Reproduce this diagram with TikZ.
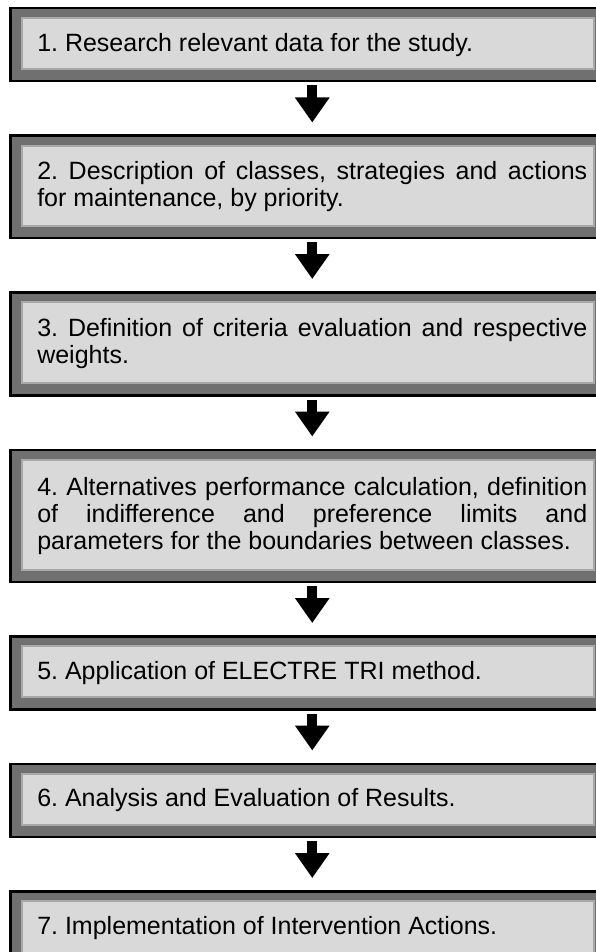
\documentclass[tikz,border=0pt]{standalone}
\usepackage{fontspec}
\setmainfont{Liberation Sans}
\usepackage{tikz}
\usetikzlibrary{positioning, arrows.meta}
\definecolor{bandgray}{HTML}{707070}
\definecolor{innergray}{HTML}{D9D9D9}
\definecolor{innerline}{HTML}{A8A8A8}

\tikzset{
    stepbox/.style={draw=black, line width=2.5pt, fill=bandgray,
        minimum width=604pt, text width=550pt, inner xsep=27pt,
        align=justify, font=\fontsize{25}{27}\selectfont,
        execute at begin node={\frenchspacing\hyphenpenalty=10000\relax},
        path picture={\draw[innerline, line width=2pt, fill=innergray]
            ([shift={(12pt,-10pt)}]path picture bounding box.north west) rectangle
            ([shift={(-20pt,12pt)}]path picture bounding box.south east);}},
    flowarrow/.style={line width=10pt, -{Triangle[length=25pt,width=33pt]}}
}

\begin{document}
\begin{tikzpicture}[node distance=52pt]
    \useasboundingbox (0,0) rectangle (596pt,-952pt);

    % Steps of the method
    \node[stepbox, minimum height=73pt, anchor=north west] (b1) at (9pt,-7pt)
        {1. Research relevant data for the study.};
    \node[stepbox, minimum height=102pt, below=of b1] (b2)
        {2. Description of classes, strategies and actions\linebreak for maintenance, by priority.};
    \node[stepbox, minimum height=103pt, below=of b2] (b3)
        {3. Definition of criteria evaluation and respective weights.};
    \node[stepbox, minimum height=132pt, below=of b3] (b4)
        {4. Alternatives performance calculation, definition of indifference and preference limits and parameters for the boundaries between classes.};
    \node[stepbox, minimum height=73pt, below=of b4] (b5)
        {5. Application of ELECTRE TRI method.};
    \node[stepbox, minimum height=73pt, below=of b5] (b6)
        {6. Analysis and Evaluation of Results.};
    \node[stepbox, minimum height=74pt, below=of b6] (b7)
        {7. Implementation of Intervention Actions.};

    % Arrows between steps
    \foreach \a/\b in {b1/b2, b2/b3, b3/b4, b4/b5, b5/b6, b6/b7}
        \draw[flowarrow] ([yshift=-3pt]\a.south) -- ([yshift=12pt]\b.north);
\end{tikzpicture}
\end{document}
